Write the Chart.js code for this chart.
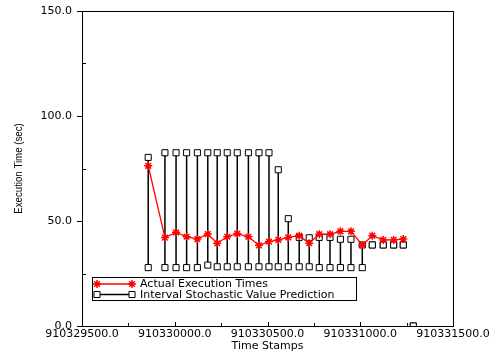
<!DOCTYPE html>
<html lang="en">
<head>
  <meta charset="UTF-8" />
  <title>Execution Time Prediction</title>
  <script src="https://cdn.jsdelivr.net/npm/chart.js"></script>
  <style>
    html, body { margin: 0; padding: 0; background: #fff; }
    #wrap { width: 500px; height: 353px; }
  </style>
</head>
<body>
  <div id="wrap"><canvas id="execChart" width="500" height="353"></canvas></div>

  <script>
    // values
    const timeStamps = [910329857, 910329947, 910330007, 910330064, 910330122, 910330178, 910330229,
      910330283, 910330337, 910330397, 910330454, 910330508, 910330558, 910330612, 910330671,
      910330725, 910330779, 910330837, 910330893, 910330950, 910331011, 910331065, 910331124,
      910331180, 910331232, 910331286];
    const actualTimes = [76.3, 42.1, 44.6, 42.5, 41.4, 43.8, 39.4, 42.5, 44.0, 42.5, 38.4, 40.2, 41.0,
      42.2, 43.0, 39.4, 43.7, 43.7, 45.1, 45.1, 38.6, 43.0, 41.0, 41.0, 41.4, null];
    const predUpper = [80.3, 82.5, 82.5, 82.5, 82.5, 82.5, 82.5, 82.5, 82.5, 82.5, 82.5, 82.5, 74.4,
      51.1, 42.2, 42.0, 42.2, 42.2, 41.3, 41.3, 38.6, 38.6, 38.6, 38.6, 38.6, 0];
    const predLower = [27.8, 27.8, 27.8, 27.8, 27.8, 29.0, 28.2, 28.2, 28.2, 28.2, 28.2, 28.2, 28.2,
      28.2, 28.2, 28.2, 27.8, 27.8, 27.8, 27.8, 27.8, 38.6, 38.6, 38.6, 38.6, 0];
    const xTicks = [910329500, 910330000, 910330500, 910331000, 910331500];
    const yTicks = [0, 50, 100, 150];

    const actualPts = timeStamps.map((t, i) => ({ x: t, y: actualTimes[i] }));
    // each interval is low -> high, then a gap so the next one starts fresh
    const intervalPts = [];
    timeStamps.forEach((t, i) => {
      intervalPts.push({ x: t, y: predLower[i] }, { x: t, y: predUpper[i] }, { x: t, y: null });
    });

    const FONT = "'DejaVu Sans', Verdana, sans-serif";

    // frame, ticks, condensed y title and the boxed legend
    const framePlugin = {
      id: "frame",
      afterDraw(chart) {
        const ctx = chart.ctx;
        const a = chart.chartArea;
        const xs = chart.scales.x, ys = chart.scales.y;
        ctx.save();
        ctx.strokeStyle = "#000";
        ctx.lineWidth = 1;
        ctx.strokeRect(Math.round(a.left) + 0.5, Math.round(a.top) + 0.5,
          Math.round(a.right - a.left), Math.round(a.bottom - a.top));
        ctx.beginPath();
        xs.ticks.forEach(t => {
          const px = Math.round(xs.getPixelForValue(t.value)) + 0.5;
          const len = xTicks.includes(t.value) ? 4 : 3;
          ctx.moveTo(px, a.bottom); ctx.lineTo(px, a.bottom - len);
        });
        ys.ticks.forEach(t => {
          const py = Math.round(ys.getPixelForValue(t.value)) + 0.5;
          if (yTicks.includes(t.value)) {
            ctx.moveTo(a.left, py); ctx.lineTo(a.left - 5, py);
          } else {
            ctx.moveTo(a.left, py); ctx.lineTo(a.left + 4, py);
          }
        });
        ctx.stroke();

        // y title, narrow like the original
        ctx.save();
        ctx.translate(18.5, (a.top + a.bottom) / 2);
        ctx.rotate(-Math.PI / 2);
        ctx.scale(0.84, 1);
        ctx.fillStyle = "#000";
        ctx.font = "11.5px 'Liberation Sans', Arial, sans-serif";
        ctx.textAlign = "center";
        ctx.textBaseline = "middle";
        ctx.fillText("Execution Time (sec)", 0, 0);
        ctx.restore();

        // legend
        const lx = 92.5, ly = 277.5, lw = 264, lh = 23;
        ctx.fillStyle = "#fff";
        ctx.fillRect(lx, ly, lw, lh);
        ctx.strokeStyle = "#000";
        ctx.strokeRect(lx, ly, lw, lh);
        const rows = [
          { ds: chart.data.datasets[0], y: 284 },
          { ds: chart.data.datasets[1], y: 294.5 }
        ];
        rows.forEach(r => {
          ctx.strokeStyle = r.ds.borderColor;
          ctx.lineWidth = r.ds.borderWidth;
          ctx.beginPath();
          ctx.moveTo(97, r.y); ctx.lineTo(132, r.y);
          ctx.stroke();
          [97, 132].forEach(px => {
            ctx.fillStyle = r.ds.pointBackgroundColor;
            ctx.strokeStyle = r.ds.pointBorderColor;
            ctx.lineWidth = r.ds.pointBorderWidth;
            Chart.helpers.drawPoint(ctx, {
              pointStyle: r.ds.pointStyle, radius: r.ds.pointRadius, borderWidth: r.ds.pointBorderWidth
            }, px, r.y);
          });
          ctx.fillStyle = "#000";
          ctx.font = "11px " + FONT;
          ctx.textBaseline = "middle";
          ctx.textAlign = "left";
          ctx.fillText(r.ds.label, 140, r.y + 0.5);
        });
        ctx.restore();
      }
    };

    new Chart(document.getElementById("execChart"), {
      type: "line",
      data: {
        datasets: [
          {
            label: "Actual Execution Times",
            data: actualPts,
            borderColor: "#ff0000",
            borderWidth: 1.3,
            pointStyle: "star",
            pointRadius: 4,
            pointBorderColor: "#ff0000",
            pointBackgroundColor: "#ff0000",
            pointBorderWidth: 1.5,
            tension: 0
          },
          {
            label: "Interval Stochastic Value Prediction",
            data: intervalPts,
            borderColor: "#000",
            borderWidth: 1.5,
            spanGaps: false,
            pointStyle: "rect",
            pointRadius: 4.3,
            pointBorderColor: "#000",
            pointBackgroundColor: "#fff",
            pointBorderWidth: 1,
            tension: 0
          }
        ]
      },
      options: {
        responsive: false,
        animation: false,
        layout: { padding: { top: 11, right: 47, left: 0, bottom: 0 } },
        plugins: { legend: { display: false }, tooltip: { enabled: false } },
        scales: {
          x: {
            type: "linear",
            min: xTicks[0],
            max: xTicks[xTicks.length - 1],
            grid: { display: false, drawTicks: false },
            border: { display: false },
            afterBuildTicks(scale) {
              const t = [];
              for (let i = 0; i < xTicks.length; i++) {
                t.push({ value: xTicks[i] });
                if (i < xTicks.length - 1) t.push({ value: (xTicks[i] + xTicks[i + 1]) / 2 });
              }
              scale.ticks = t;
            },
            ticks: {
              maxRotation: 0,
              autoSkip: false,
              padding: 2,
              color: "#000",
              font: { family: FONT, size: 11 },
              callback: v => xTicks.includes(v) ? v.toFixed(1) : ""
            },
            title: {
              display: true,
              text: "Time Stamps",
              color: "#000",
              font: { family: FONT, size: 11 },
              padding: { top: 0, bottom: 0 }
            },
            afterFit(scale) { scale.height = 27; }
          },
          y: {
            min: yTicks[0],
            max: yTicks[yTicks.length - 1],
            grid: { display: false, drawTicks: false },
            border: { display: false },
            afterBuildTicks(scale) {
              const t = [];
              for (let i = 0; i < yTicks.length; i++) {
                t.push({ value: yTicks[i] });
                if (i < yTicks.length - 1) t.push({ value: (yTicks[i] + yTicks[i + 1]) / 2 });
              }
              scale.ticks = t;
            },
            ticks: {
              padding: 10,
              color: "#000",
              font: { family: FONT, size: 11 },
              callback: v => yTicks.includes(v) ? v.toFixed(1) : ""
            },
            afterFit(scale) {
              scale.width = 82;
              scale.paddingTop = 0;
              scale.paddingBottom = 0;
            }
          }
        }
      },
      plugins: [framePlugin]
    });
  </script>
</body>
</html>
